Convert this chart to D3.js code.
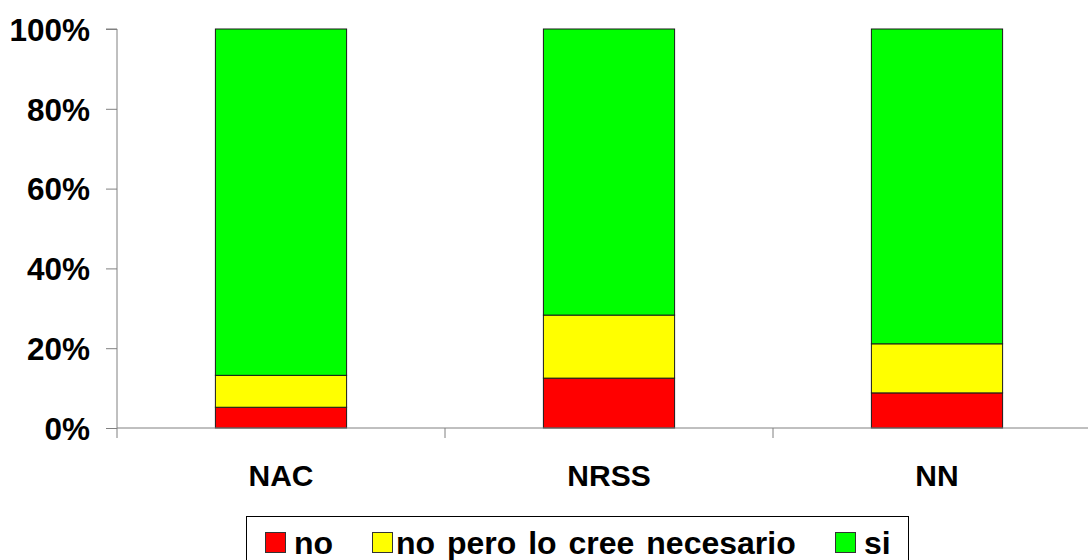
<!DOCTYPE html>
<html>
<head>
<meta charset="utf-8">
<script src="https://cdn.jsdelivr.net/npm/d3@7"></script>
<style>
  html, body { margin: 0; padding: 0; background: #fff; }
  svg { display: block; font-family: "Liberation Sans", Arial, sans-serif; font-weight: bold; }
</style>
</head>
<body>
<svg id="chart" width="1088" height="560"></svg>
<script>
// Share of answers per group (percent)
const categories = ["NAC", "NRSS", "NN"];
const seriesNames = ["no", "no pero lo cree necesario", "si"];
const valuesNo = [5.2, 12.5, 8.8];
const valuesNoPero = [8.0, 15.8, 12.3];
const valuesSi = [86.8, 71.7, 78.9];
const yTicks = [0, 0.2, 0.4, 0.6, 0.8, 1.0];
const colors = ["#ff0000", "#ffff00", "#00ff00"];

const rows = categories.map((c, i) => ({
  cat: c,
  "no": valuesNo[i],
  "no pero lo cree necesario": valuesNoPero[i],
  "si": valuesSi[i]
}));

const svg = d3.select("#chart");
const plotLeft = 117, plotRight = 1101, plotTop = 29, plotBottom = 428;
const fontStack = "'Liberation Sans', Arial, sans-serif";

const x = d3.scaleBand().domain(categories).range([plotLeft, plotRight]).padding(0);
const y = d3.scaleLinear().domain([0, 1]).range([plotBottom, plotTop]);
const barW = x.bandwidth() * 0.4;

// stacked bars, normalised to 100%
const stack = d3.stack().keys(seriesNames).offset(d3.stackOffsetExpand);
const layers = stack(rows);

svg.append("g")
  .selectAll("g")
  .data(layers)
  .join("g")
  .attr("fill", (d, i) => colors[i])
  .selectAll("rect")
  .data(d => d)
  .join("rect")
  .attr("x", d => x(d.data.cat) + (x.bandwidth() - barW) / 2)
  .attr("y", d => y(d[1]))
  .attr("width", barW)
  .attr("height", d => y(d[0]) - y(d[1]))
  .attr("stroke", "#1a1a1a")
  .attr("stroke-width", 1);

// y axis
const yAxis = d3.axisLeft(y)
  .tickValues(yTicks)
  .tickFormat(d3.format(".0%"))
  .tickSize(11)
  .tickPadding(16);
const gy = svg.append("g").attr("transform", `translate(${plotLeft},0)`).call(yAxis);
gy.select(".domain").attr("stroke", "#808080").attr("d", `M-11,${plotTop}H0V${plotBottom + 10}`);
gy.selectAll(".tick line").attr("stroke", "#808080");
gy.selectAll(".tick text")
  .attr("fill", "#000")
  .attr("dy", "0.36em")
  .style("font-size", "31.5px")
  .style("font-weight", "bold")
  .style("font-family", fontStack);

// x axis: baseline, boundary ticks, category labels
const xAxis = d3.axisBottom(x).tickSize(0).tickPadding(37);
const gx = svg.append("g").attr("transform", `translate(0,${plotBottom})`).call(xAxis);
gx.select(".domain").attr("stroke", "#808080").attr("d", `M${plotLeft},0H${plotRight}`);
gx.selectAll(".tick text")
  .attr("fill", "#000")
  .attr("dy", "0.71em")
  .style("font-size", "30px")
  .style("font-weight", "bold")
  .style("font-family", fontStack);
gx.selectAll("line.bound")
  .data(categories.slice(1).map(c => x(c)).concat([plotRight]))
  .join("line")
  .attr("class", "bound")
  .attr("x1", d => d).attr("x2", d => d)
  .attr("y1", 0).attr("y2", 10)
  .attr("stroke", "#808080");

// legend
const lg = svg.append("g");
lg.append("rect")
  .attr("x", 246.5).attr("y", 516.5)
  .attr("width", 662).attr("height", 60)
  .attr("fill", "#fff").attr("stroke", "#000");
const legendItems = [
  { sx: 265, tx: 294 },
  { sx: 372, tx: 396 },
  { sx: 835, tx: 864 }
];
legendItems.forEach((p, i) => {
  lg.append("rect")
    .attr("x", p.sx + 0.5).attr("y", 532.5)
    .attr("width", 20).attr("height", 20)
    .attr("fill", colors[i]).attr("stroke", "#333");
  lg.append("text")
    .attr("x", p.tx).attr("y", 554)
    .style("font-size", "32px")
    .style("word-spacing", "3px")
    .text(seriesNames[i]);
});
</script>
</body>
</html>
